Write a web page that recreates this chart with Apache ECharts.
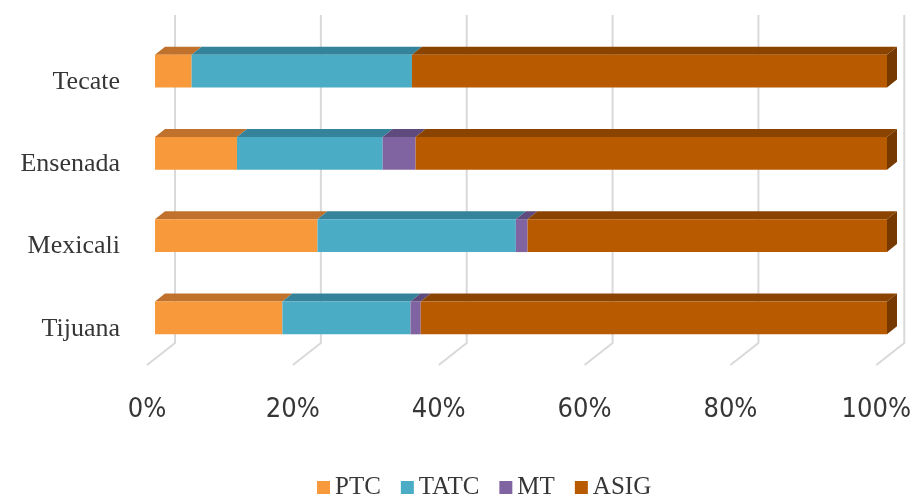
<!DOCTYPE html>
<html><head><meta charset="utf-8">
<script src="https://cdn.jsdelivr.net/npm/echarts@6/dist/echarts.min.js"></script>
<style>html,body{margin:0;padding:0;background:#fff}#c{width:914px;height:496px}</style>
</head><body><div id="c"></div>
<script>
// ---- data ----
const categories = ['Tijuana', 'Mexicali', 'Ensenada', 'Tecate'];
const seriesNames = ['PTC', 'TATC', 'MT', 'ASIG'];
const PTC  = [17.4, 22.2, 11.2, 5.0];
const TATC = [17.5, 27.1, 19.9, 30.1];
const MT   = [1.4, 1.6, 4.5, 0];
const ASIG = [63.7, 49.1, 64.4, 64.9];
const tickValues = [0, 20, 40, 60, 80, 100];

// ---- styles ----
const frontColors = ['#F89A3C', '#4BACC6', '#8064A2', '#B85A00'];
const topColors = ['#C0722C', '#34839A', '#5E4A7C', '#8A4400'];
const sideColor = '#763A00';
const DX = 10, DY = 8;   // bar depth offset
const WX = 28, WY = 22;  // floor depth offset
const BAR_RATIO = 0.4;
const gridColor = '#D9D9D9';
const textColor = '#363636';

const values = [PTC, TATC, MT, ASIG];
const segData = [];
categories.forEach((c, i) => {
  let acc = 0;
  values.forEach((arr, s) => {
    segData.push([i, s, acc, acc + arr[i]]);
    acc += arr[i];
  });
});

const chart = echarts.init(document.getElementById('c'), null, {renderer: 'canvas'});
const series = [];

// back wall + floor gridlines
series.push({
  type: 'custom', xAxisIndex: 1, yAxisIndex: 1, silent: true, z: 1,
  data: tickValues.map(v => [v, 0]),
  renderItem: function (params, api) {
    const v = api.value(0);
    const pb = api.coord([v, 0]);
    const pt = api.coord([v, 1]);
    return {
      type: 'polyline',
      shape: {points: [[pb[0], pb[1]], [pb[0] + WX, pb[1] - WY], [pb[0] + WX, pt[1]]]},
      style: {stroke: gridColor, lineWidth: 2, fill: null}
    };
  }
});

// front faces
seriesNames.forEach((n, s) => {
  series.push({
    name: n, type: 'bar', stack: 'total', barWidth: (BAR_RATIO * 100) + '%',
    xAxisIndex: 0, yAxisIndex: 0, z: 3,
    itemStyle: {color: frontColors[s]},
    emphasis: {disabled: true},
    data: values[s]
  });
});

// top & side faces
series.push({
  type: 'custom', xAxisIndex: 0, yAxisIndex: 0, silent: true, z: 2,
  encode: {x: [2, 3], y: 0},
  data: segData,
  renderItem: function (params, api) {
    const cat = api.value(0), s = api.value(1), a = api.value(2), b = api.value(3);
    if (b - a <= 0) return {type: 'group', children: []};
    const p0 = api.coord([a, cat]);
    const p1 = api.coord([b, cat]);
    const half = api.size([0, 1])[1] * BAR_RATIO / 2;
    const yT = p0[1] - half, yB = p0[1] + half;
    const children = [{
      type: 'polygon',
      shape: {points: [[p0[0], yT], [p1[0], yT], [p1[0] + DX, yT - DY], [p0[0] + DX, yT - DY]]},
      style: {fill: topColors[s]}
    }];
    if (s === seriesNames.length - 1) {
      children.push({
        type: 'polygon',
        shape: {points: [[p1[0], yT], [p1[0] + DX, yT - DY], [p1[0] + DX, yB - DY], [p1[0], yB]]},
        style: {fill: sideColor}
      });
    }
    return {type: 'group', children: children};
  }
});

chart.setOption({
  animation: false,
  backgroundColor: '#ffffff',
  legend: {
    data: seriesNames, left: 317, top: 475, itemWidth: 13, itemHeight: 13, itemGap: 20,
    icon: 'rect', padding: 0,
    textStyle: {fontFamily: 'Liberation Serif', fontSize: 25, color: textColor}
  },
  grid: [
    {left: 155, right: 27, top: 30, bottom: 137},
    {left: 147, right: 35, top: 15, bottom: 131}
  ],
  xAxis: [
    {type: 'value', gridIndex: 0, min: 0, max: 100, interval: 20, show: false},
    {type: 'value', gridIndex: 1, min: 0, max: 100, interval: 20,
     axisLine: {show: false}, axisTick: {show: false}, splitLine: {show: false},
     axisLabel: {formatter: '{value}%', fontFamily: 'DejaVu Sans Condensed, Liberation Sans Narrow, Liberation Sans', fontSize: 27, color: textColor, margin: 31}}
  ],
  yAxis: [
    {type: 'category', gridIndex: 0, data: categories,
     axisLine: {show: false}, axisTick: {show: false}, splitLine: {show: false},
     axisLabel: {fontFamily: 'Liberation Serif', fontSize: 26, color: textColor, margin: 35,
                 verticalAlign: 'top', lineHeight: 22}},
    {type: 'value', gridIndex: 1, min: 0, max: 1, show: false}
  ],
  series: series
});
</script></body></html>
